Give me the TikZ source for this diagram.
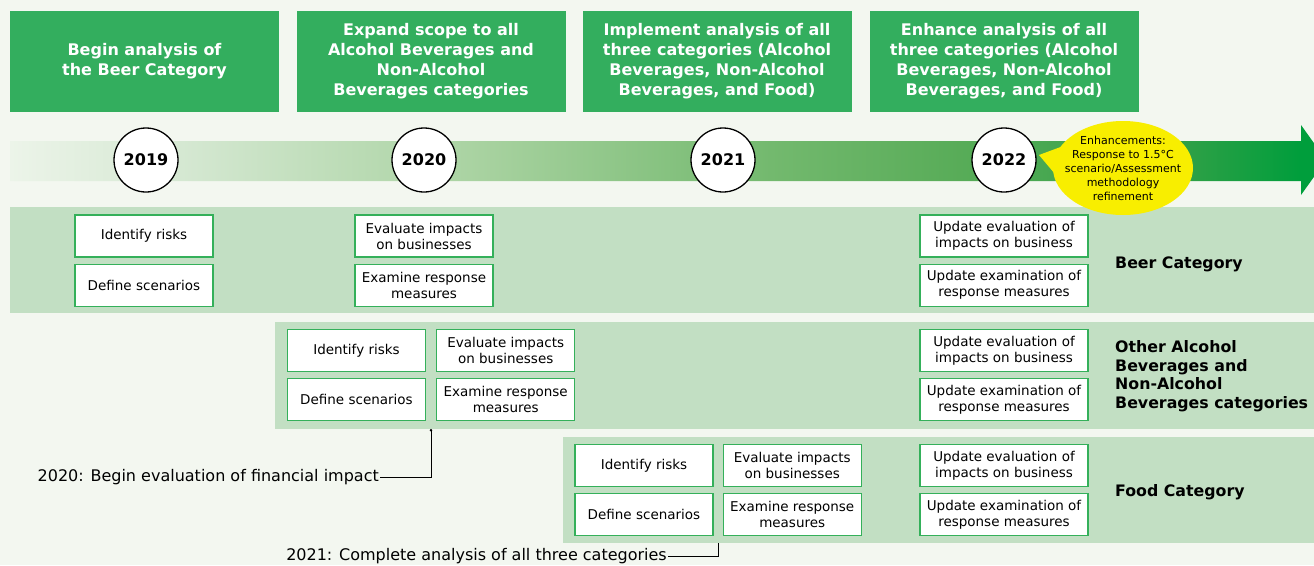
\documentclass[tikz,border=0pt]{standalone}
\usepackage{fontspec}
\setmainfont{DejaVu Sans}
\usetikzlibrary{positioning,arrows.meta}

\definecolor{bgcol}{RGB}{243,247,240}
\definecolor{titlegreen}{RGB}{51,174,94}
\definecolor{bandgreen}{RGB}{194,223,195}
\definecolor{boxgreen}{RGB}{52,176,90}
\definecolor{barA}{RGB}{236,244,233}
\definecolor{barB}{RGB}{213,232,210}
\definecolor{barC}{RGB}{168,210,160}
\definecolor{barD}{RGB}{115,185,110}
\definecolor{barE}{RGB}{88,172,88}
\definecolor{barF}{RGB}{45,160,70}
\definecolor{barG}{RGB}{0,158,60}
\definecolor{bubble}{RGB}{248,238,0}
\pgfdeclarehorizontalshading{timebar}{100bp}{color(0bp)=(barA); color(25bp)=(barA);
  color(31.5bp)=(barB); color(42.9bp)=(barC); color(53.9bp)=(barD);
  color(61.1bp)=(barE); color(69.8bp)=(barF); color(74bp)=(barG); color(100bp)=(barG)}

\begin{document}
\begin{tikzpicture}[x=1pt,y=-1pt,
    title/.style={fill=titlegreen,text=white,minimum width=269pt,minimum height=101pt,inner sep=0pt,align=center,font=\fontsize{16}{20}\selectfont\bfseries},
    yearc/.style={circle,draw,line width=1.3pt,fill=white,minimum size=64pt,inner sep=0pt,font=\fontsize{16}{19}\selectfont\bfseries},
    task/.style={draw=boxgreen,line width=1.2pt,fill=white,minimum width=138pt,minimum height=42pt,inner sep=1pt,align=center,font=\fontsize{13.5}{16}\selectfont},
    upd/.style={task,minimum width=168pt},
    cat/.style={anchor=west,align=left,inner sep=0pt,font=\fontsize{15.8}{18.5}\selectfont\bfseries},
    note/.style={anchor=east,inner sep=1pt,font=\fontsize{16}{18}\selectfont}]
  \clip (0,0) rectangle (1314,565);
  \fill[bgcol] (0,0) rectangle (1314,565);

  % category bands
  \fill[bandgreen] (10,207) rectangle (1314,313);
  \fill[bandgreen] (275,322) rectangle (1314,429);
  \fill[bandgreen] (563,437) rectangle (1314,543);

  % timeline arrow
  \shade[shading=timebar]
    (10,141) -- (1301,141) -- (1301,125) -- (1326,160) -- (1301,195) -- (1301,181) -- (10,181) -- cycle;

  % headings
  \node[title] (h19) at (144.5,61.5) {Begin analysis of\\the Beer Category};
  \node[title] (h20) at (431,61.5) {Expand scope to all\\Alcohol Beverages and\\Non-Alcohol\\Beverages categories};
  \node[title] (h21) at (717,61.5) {Implement analysis of all\\three categories (Alcohol\\Beverages, Non-Alcohol\\Beverages, and Food)};
  \node[title] (h22) at (1004,61.5) {Enhance analysis of all\\three categories (Alcohol\\Beverages, Non-Alcohol\\Beverages, and Food)};

  % years
  \node[yearc] (y19) at (146,160) {2019};
  \node[yearc] (y20) at (424,160) {2020};
  \node[yearc] (y21) at (723,160) {2021};
  \node[yearc] (y22) at (1004,160) {2022};

  % enhancement bubble
  \fill[bubble] (1039,155) -- (1066,145) -- (1060,180) -- cycle;
  \fill[bubble] (1123,168) ellipse [x radius=70,y radius=47];
  \node[align=center,inner sep=0pt,font=\fontsize{11}{14}\selectfont] (enh) at (1123,168)
    {Enhancements:\\Response to 1.5°C\\scenario/Assessment\\methodology\\refinement};

  % beer category
  \node[task] (brisk) at (144,236) {Identify risks};
  \node[task,below=6pt of brisk] (bscen) {Define scenarios};
  \node[task] (beval) at (424,236) {Evaluate impacts\\on businesses};
  \node[task,below=6pt of beval] (bresp) {Examine response\\measures};
  \node[upd] (bupe) at (1004,236) {Update evaluation of\\impacts on business};
  \node[upd,below=6pt of bupe] (bupr) {Update examination of\\response measures};
  \node[cat] (bcat) at (1115,264) {Beer Category};

  % other beverages
  \node[task] (orisk) at (356.5,350.5) {Identify risks};
  \node[task,below=6pt of orisk] (oscen) {Define scenarios};
  \node[task,right=10pt of orisk] (oeval) {Evaluate impacts\\on businesses};
  \node[task,below=6pt of oeval] (oresp) {Examine response\\measures};
  \node[upd] (oupe) at (1004,350.5) {Update evaluation of\\impacts on business};
  \node[upd,below=6pt of oupe] (oupr) {Update examination of\\response measures};
  \node[cat] (ocat) at (1115,376) {Other Alcohol\\Beverages and\\Non-Alcohol\\Beverages categories};

  % food
  \node[task] (frisk) at (644,465.5) {Identify risks};
  \node[task,below=6pt of frisk] (fscen) {Define scenarios};
  \node[task,right=9pt of frisk] (feval) {Evaluate impacts\\on businesses};
  \node[task,below=6pt of feval] (fresp) {Examine response\\measures};
  \node[upd] (fupe) at (1004,465.5) {Update evaluation of\\impacts on business};
  \node[upd,below=6pt of fupe] (fupr) {Update examination of\\response measures};
  \node[cat] (fcat) at (1115,492) {Food Category};

  % milestones
  \node[note] (n20) at (380,477) {2020: Begin evaluation of financial impact};
  \coordinate (c20) at (431,429);
  \draw[line width=0.9pt,-{Circle[length=2.5pt]}] (n20.east) -| (c20);
  \node[note] (n21) at (668,556) {2021: Complete analysis of all three categories};
  \coordinate (c21) at (718,543);
  \draw[line width=0.9pt] (n21.east) -| (c21);
\end{tikzpicture}
\end{document}
